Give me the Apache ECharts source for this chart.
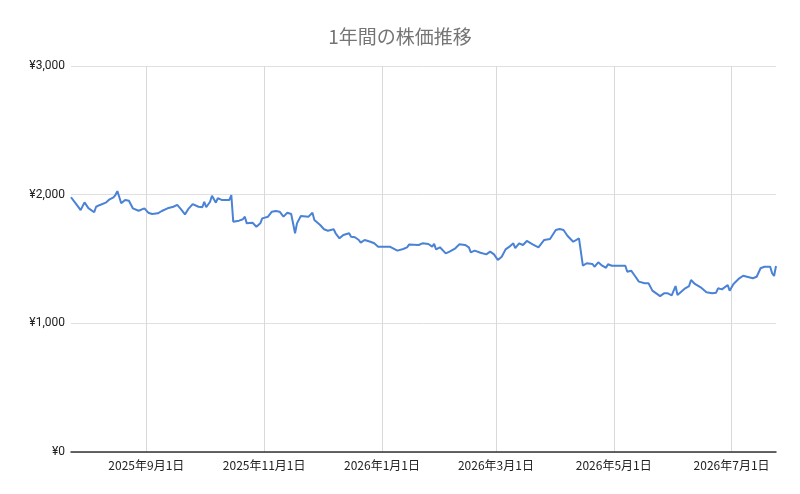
<!DOCTYPE html>
<html>
<head>
<meta charset="utf-8">
<script src="https://cdn.jsdelivr.net/npm/echarts@6/dist/echarts.min.js"></script>
<style>
  html, body { margin: 0; padding: 0; background: #fff; }
  #main { width: 800px; height: 494px; }
</style>
</head>
<body>
<div id="main"></div>
<script>
// 日付と株価
const dates = [
  '2025-07-24','2025-07-27','2025-07-29','2025-07-31','2025-08-02','2025-08-05','2025-08-06','2025-08-08',
  '2025-08-11','2025-08-13','2025-08-15','2025-08-16','2025-08-17','2025-08-19','2025-08-21','2025-08-23',
  '2025-08-25','2025-08-26','2025-08-28','2025-08-29','2025-08-31','2025-09-02','2025-09-04','2025-09-07',
  '2025-09-09','2025-09-12','2025-09-15','2025-09-17','2025-09-19','2025-09-21','2025-09-23','2025-09-25',
  '2025-09-28','2025-09-30','2025-10-01','2025-10-02','2025-10-04','2025-10-05','2025-10-07','2025-10-08',
  '2025-10-10','2025-10-14','2025-10-15','2025-10-16','2025-10-19','2025-10-21','2025-10-22','2025-10-23',
  '2025-10-26','2025-10-27','2025-10-28','2025-10-30','2025-10-31','2025-11-03','2025-11-04','2025-11-05',
  '2025-11-06','2025-11-07','2025-11-09','2025-11-11','2025-11-13','2025-11-15','2025-11-17','2025-11-18',
  '2025-11-19','2025-11-20','2025-11-24','2025-11-26','2025-11-27','2025-11-30','2025-12-02','2025-12-04',
  '2025-12-07','2025-12-08','2025-12-10','2025-12-12','2025-12-15','2025-12-16','2025-12-18','2025-12-20',
  '2025-12-21','2025-12-23','2025-12-26','2025-12-28','2025-12-30','2026-01-05','2026-01-09','2026-01-12',
  '2026-01-14','2026-01-15','2026-01-20','2026-01-22','2026-01-25','2026-01-27','2026-01-28','2026-01-29',
  '2026-01-31','2026-02-01','2026-02-03','2026-02-05','2026-02-08','2026-02-10','2026-02-13','2026-02-15',
  '2026-02-16','2026-02-18','2026-02-21','2026-02-24','2026-02-26','2026-02-28','2026-03-02','2026-03-04',
  '2026-03-06','2026-03-08','2026-03-10','2026-03-11','2026-03-13','2026-03-15','2026-03-17','2026-03-20',
  '2026-03-23','2026-03-26','2026-03-29','2026-04-01','2026-04-03','2026-04-05','2026-04-07','2026-04-08',
  '2026-04-10','2026-04-13','2026-04-15','2026-04-17','2026-04-20','2026-04-21','2026-04-23','2026-04-25',
  '2026-04-27','2026-04-28','2026-04-30','2026-05-01','2026-05-07','2026-05-08','2026-05-10','2026-05-12',
  '2026-05-13','2026-05-14','2026-05-15','2026-05-17','2026-05-18','2026-05-19','2026-05-21','2026-05-23',
  '2026-05-25','2026-05-27','2026-05-29','2026-05-31','2026-06-02','2026-06-03','2026-06-04','2026-06-07',
  '2026-06-09','2026-06-10','2026-06-12','2026-06-15','2026-06-18','2026-06-21','2026-06-23','2026-06-24',
  '2026-06-26','2026-06-29','2026-06-30','2026-07-02','2026-07-03','2026-07-05','2026-07-07','2026-07-10',
  '2026-07-12','2026-07-14','2026-07-15','2026-07-16','2026-07-18','2026-07-21','2026-07-22','2026-07-23',
  '2026-07-24'
];
const prices = [
  1980,1920,1880,1940,1895,1863,1906,1920,
  1938,1964,1979,1997,2028,1933,1959,1953,
  1894,1906,1875,1868,1894,1860,1850,1855,
  1873,1894,1906,1920,1886,1847,1894,1927,
  1906,1902,1945,1902,1945,1992,1938,1972,
  1959,1959,1997,1790,1798,1809,1829,1777,
  1782,1790,1751,1777,1816,1829,1842,1868,
  1855,1873,1868,1829,1860,1850,1700,1777,
  1764,1834,1829,1860,1803,1764,1731,1720,
  1731,1700,1661,1687,1700,1673,1669,1648,
  1627,1648,1634,1622,1596,1596,1565,1578,
  1590,1612,1609,1622,1617,1596,1617,1575,
  1591,1603,1544,1557,1583,1614,1609,1591,
  1552,1565,1549,1536,1557,1536,1492,1518,
  1575,1596,1622,1585,1622,1609,1640,1614,
  1591,1648,1655,1725,1733,1725,1681,1669,
  1634,1661,1448,1467,1461,1440,1474,1448,
  1432,1459,1448,1436,1448,1401,1409,1368,
  1376,1324,1311,1311,1298,1311,1254,1233,
  1212,1233,1233,1218,1290,1220,1207,1272,
  1290,1337,1306,1280,1241,1233,1238,1272,
  1264,1298,1254,1306,1306,1350,1370,1358,
  1350,1362,1358,1428,1440,1440,1389,1368,
  1446
];
const tickDates = ['2025-09-01','2025-11-01','2026-01-01','2026-03-01','2026-05-01','2026-07-01'];
const xMin = '2025-07-24';
const xMax = '2026-07-24';

const toTime = d => new Date(d + 'T00:00:00').getTime();

const chart = echarts.init(document.getElementById('main'));
const tickTimes = tickDates.map(toTime);
const seriesData = dates.map((d, i) => [toTime(d), prices[i]]);

const option = {
  animation: false,
  backgroundColor: '#fff',
  title: {
    text: '1年間の株価推移',
    left: 'center',
    top: 22,
    textStyle: {
      fontFamily: 'Noto Sans CJK JP',
      fontSize: 19,
      fontWeight: 'normal',
      color: '#757575'
    }
  },
  grid: { left: 71, right: 24, top: 66, bottom: 42, containLabel: false },
  xAxis: {
    type: 'value',
    min: toTime(xMin),
    max: toTime(xMax),
    axisLine: { show: true, lineStyle: { color: '#333', width: 1.5 } },
    axisTick: { show: false, customValues: tickTimes },
    axisLabel: {
      customValues: tickTimes,
      margin: 7,
      fontFamily: 'Noto Sans CJK JP',
      fontSize: 12,
      color: '#222',
      formatter: function (v) {
        const d = new Date(v);
        return d.getFullYear() + '年' + (d.getMonth() + 1) + '月' + d.getDate() + '日';
      }
    },
    splitLine: { show: true, lineStyle: { color: '#d9d9d9', width: 1 } }
  },
  yAxis: {
    type: 'value',
    min: 0,
    max: 3000,
    interval: 1000,
    axisLine: { show: false },
    axisTick: { show: false },
    axisLabel: {
      margin: 6,
      fontFamily: 'Roboto',
      fontSize: 12,
      color: '#222',
      formatter: v => '¥' + v.toLocaleString('en-US')
    },
    splitLine: { lineStyle: { color: '#e0e0e0', width: 1 } }
  },
  series: [{
    type: 'line',
    data: seriesData,
    showSymbol: false,
    lineStyle: { color: '#4a82d6', width: 2 },
    itemStyle: { color: '#4a82d6' }
  }]
};

chart.setOption(option);
</script>
</body>
</html>
